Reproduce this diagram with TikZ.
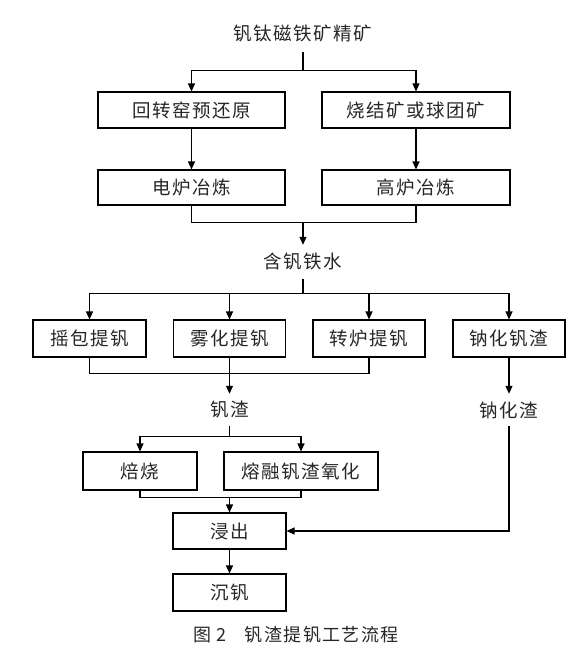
\documentclass[tikz,border=0pt]{standalone}
\usepackage{fontspec}
\setmainfont{Noto Sans CJK SC}[LetterSpace=8]
\usepackage{tikz}
\usetikzlibrary{calc}
\usetikzlibrary{arrows.meta}
\tikzstyle{box} = [rectangle, draw=black, line width=1.1pt, minimum height=36pt, inner sep=0pt, text centered, font=\fontsize{18.5}{22}\selectfont, text=black!85]
\tikzstyle{plain} = [rectangle, minimum height=32pt, inner sep=0pt, text centered, font=\fontsize{18.5}{22}\selectfont, text=black!85]
\tikzstyle{line} = [line width=1.1pt]
\tikzstyle{arrow} = [line width=1.1pt,-{Triangle[length=8pt,width=7pt]}]

\begin{document}
\begin{tikzpicture}[x=1pt,y=-1pt]
\useasboundingbox (0,0) rectangle (584,648);

\node(ore)[plain,minimum height=38pt] at (303,33) {钒钛磁铁矿精矿};
\node(pre)[box,minimum width=187pt] at (191.5,110) {回转窑预还原};
\node(sinter)[box,minimum width=188pt] at (416,110) {烧结矿或球团矿};
\node(eaf)[box,minimum width=187pt,minimum height=35pt] at (191.5,187.5) {电炉冶炼};
\node(bf)[box,minimum width=188pt,minimum height=35pt] at (416,187.5) {高炉冶炼};

\node(molten)[plain,minimum height=34pt] at (303,262) {含钒铁水};

\node(ladle)[box,minimum width=113pt,minimum height=37pt] at (89.5,338.5) {摇包提钒};
\node(atom)[box,minimum width=112pt,minimum height=37pt] at (229.5,338.5) {雾化提钒};
\node(conv)[box,minimum width=112pt,minimum height=37pt] at (369,338.5) {转炉提钒};
\node(sodium)[box,minimum width=112pt,minimum height=37pt] at (509,338.5) {钠化钒渣};

\node(slag)[plain] at (229.5,410) {钒渣};
\node(naslag)[plain] at (509,410) {钠化渣};

\node(roast)[box,minimum width=114pt,minimum height=38pt] at (140,471) {焙烧};
\node(fuse)[box,minimum width=154pt,minimum height=38pt] at (301,471) {熔融钒渣氧化};

\node(leach)[box,minimum width=113pt] at (229.5,531) {浸出};
\node(vanad)[box,minimum width=113pt,minimum height=37pt] at (229.5,592.5) {沉钒};

\node(cap)[plain,font=\fontsize{18}{20}\selectfont] at (296,635) {图 2\hspace{1em}钒渣提钒工艺流程};

% top part
\draw [line] (ore.south) -- ++(0,18) coordinate (s1);
\draw [arrow] (s1) -| (pre);
\draw [arrow] (s1) -| (sinter);
\draw [arrow] (pre) -- (eaf);
\draw [arrow] (sinter) -- (bf);
\draw [line] (eaf.south) -- ++(0,17) coordinate (s2) -| (bf.south);
\draw [arrow] (s2 -| molten) -- (molten);

% vanadium extraction
\draw [line] (molten.south) -- ++(0,14) coordinate (s3);
\foreach \n in {ladle,atom,conv,sodium}
  \draw [arrow] (s3) -| (\n);
\draw [line] (ladle.south) -- ++(0,16) -| (conv.south);
\draw [arrow] (atom) -- (slag);
\draw [arrow] (sodium) -- (naslag);

% slag treatment
\draw [line] (slag.south) -- ++(0,10) coordinate (s5);
\draw [arrow] (s5) -| (roast);
\draw [arrow] (s5) -| (fuse);
\draw [line] (roast.south) -- ++(0,7) coordinate (s6) -| (fuse.south);
\draw [arrow] (s6 -| leach) -- (leach);
\draw [arrow] (naslag.south) |- (leach);
\draw [arrow] (leach) -- (vanad);
\end{tikzpicture}
\end{document}
